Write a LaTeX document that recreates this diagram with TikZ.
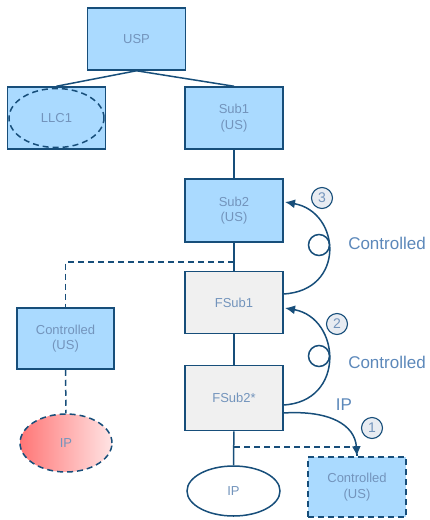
\documentclass[tikz,border=0pt]{standalone}
\usepackage{fontspec}
\setmainfont{Liberation Sans}
\usetikzlibrary{shapes.geometric,arrows.meta}
\definecolor{bord}{RGB}{23,78,122}
\definecolor{bfill}{RGB}{170,218,255}
\definecolor{gfill}{RGB}{240,240,240}
\definecolor{btext}{RGB}{115,148,188}
\definecolor{ltext}{RGB}{92,136,186}
\definecolor{badge}{RGB}{232,236,242}
\tikzset{
  box/.style={draw=bord, line width=1.5pt, fill=bfill, minimum width=98pt, minimum height=62pt, inner sep=0pt, align=center, text=btext, font=\fontsize{13}{15.5}\selectfont},
  gbox/.style={box, fill=gfill},
  dbox/.style={box, dashed, dash pattern=on 6pt off 4pt},
  ell/.style={ellipse, draw=bord, line width=1.5pt, inner sep=0pt, text=btext, font=\fontsize{13}{15.5}\selectfont},
  conn/.style={draw=bord, line width=1.5pt},
  dconn/.style={conn, dash pattern=on 6pt off 4pt},
  arr/.style={conn, -{Latex[length=10pt,width=9pt]}},
  badgestyle/.style={circle, draw=bord, line width=1.1pt, fill=badge, minimum size=21pt, inner sep=0pt, text=btext, font=\fontsize{14}{16}\selectfont},
  big/.style={text=ltext, font=\fontsize{17}{20}\selectfont, inner sep=0pt},
  loopc/.style={draw=bord, line width=1.5pt}
}
\begin{document}
\begin{tikzpicture}[x=1pt,y=-1pt]
\useasboundingbox (0,0) rectangle (429,520);
% nodes
\node[box] (usp) at (136.5,39) {USP};
\node[box] (llc) at (56.5,118) {};
\node[ell, dashed, dash pattern=on 6pt off 4pt, minimum width=95pt, minimum height=59pt] (llce) at (56.5,118) {LLC1};
\node[box] (sub1) at (234,118) {Sub1\\(US)};
\node[box, minimum height=63pt] (sub2) at (234,210.5) {Sub2\\(US)};
\node[gbox] (fsub1) at (234,302.5) {FSub1};
\node[gbox, minimum height=65pt] (fsub2) at (234,398) {FSub2*};
\node[ell, fill=white, minimum width=93pt, minimum height=50pt] (ipw) at (233.5,491) {IP};
\node[dbox, minimum height=60pt] (ctrlr) at (357,487) {Controlled\\(US)};
\node[box, minimum width=97pt, minimum height=61pt] (ctrll) at (65.5,338.5) {Controlled\\(US)};
\node[ell, dashed, dash pattern=on 6pt off 4pt, left color={rgb,255:red,255;green,118;blue,118}, right color={rgb,255:red,255;green,228;blue,228}, minimum width=92pt, minimum height=58pt] (ipr) at (66,443) {IP};
% tree connectors
\draw[conn] (usp.south) -- (llc.north);
\draw[conn] (usp.south) -- (sub1.north);
\draw[conn] (sub1) -- (sub2);
\draw[conn] (sub2) -- (fsub1);
\draw[conn] (fsub1) -- (fsub2);
\draw[conn] (fsub2) -- (ipw);
% dashed connectors
\coordinate (j1) at (234,262);
\coordinate (j2) at (234,447);
\draw[dconn] (j1) -| (ctrll.north);
\draw[dconn] (ctrll.south) -- (ipr.north);
\draw[dconn] (j2) -| (ctrlr.north);
% control arrows
\coordinate (a3s) at (283,294);
\coordinate (a3e) at (285,202);
\draw[arr] (a3s) .. controls (346,291) and (341,212) .. (a3e);
\draw[loopc] (319,245) circle (10.5pt);
\coordinate (a2s) at (283,405);
\coordinate (a2e) at (285,308);
\draw[arr] (a2s) .. controls (346,402) and (341,318) .. (a2e);
\draw[loopc] (319,356) circle (10.5pt);
\coordinate (a1s) at (283,413);
\draw[arr] (a1s) .. controls (330,410) and (355,425) .. (ctrlr.north);
% badges and labels
\node[badgestyle] (b3) at (322,198) {3};
\node[badgestyle] (b2) at (337,324) {2};
\node[badgestyle] (b1) at (372,428) {1};
\node[big] (l3) at (387,243) {Controlled};
\node[big] (l2) at (387,362) {Controlled};
\node[big] (lip) at (344,405) {IP};
\end{tikzpicture}
\end{document}
